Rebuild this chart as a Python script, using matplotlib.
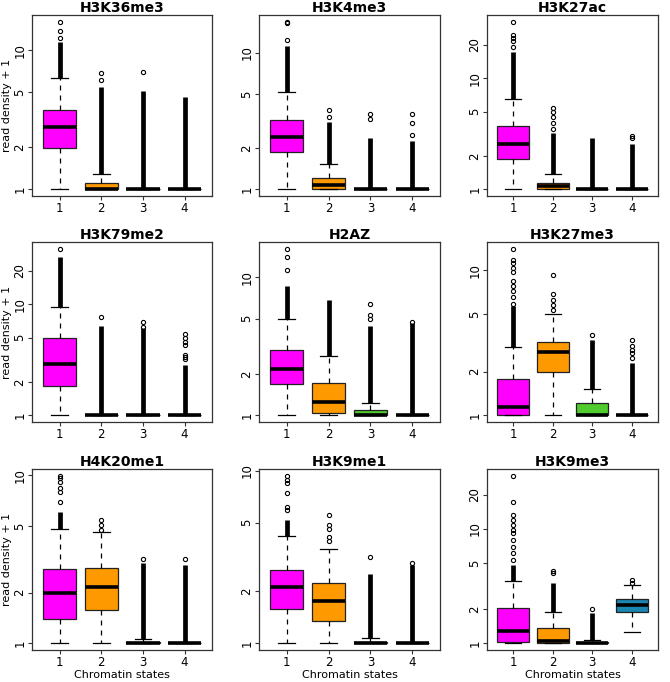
import math
import matplotlib
matplotlib.use('Agg')
import matplotlib.pyplot as plt

# panel titles and box colours (state 1..4)
titles = ['H3K36me3', 'H3K4me3', 'H3K27ac',
          'H3K79me2', 'H2AZ', 'H3K27me3',
          'H4K20me1', 'H3K9me1', 'H3K9me3']
states = [1, 2, 3, 4]
box_colors = ['#FF00FF', '#FF9900', '#4FCB2D', '#1B86B2']

# box statistics (read density + 1)
q1 = [[1.97, 1.0, 1.0, 1.0], [1.89, 1.0, 1.0, 1.0], [1.87, 1.0, 1.0, 1.0],
      [1.85, 1.0, 1.0, 1.0], [1.68, 1.04, 1.0, 1.0], [1.0, 1.98, 1.0, 1.0],
      [1.40, 1.57, 1.0, 1.0], [1.57, 1.35, 1.0, 1.0], [1.03, 1.0, 1.0, 1.86]]
med = [[2.81, 1.0, 1.0, 1.0], [2.41, 1.07, 1.0, 1.0], [2.56, 1.06, 1.0, 1.0],
       [2.91, 1.0, 1.0, 1.0], [2.18, 1.25, 1.0, 1.0], [1.14, 2.72, 1.0, 1.0],
       [2.0, 2.16, 1.0, 1.0], [2.11, 1.75, 1.0, 1.0], [1.27, 1.04, 1.0, 2.17]]
q3 = [[3.72, 1.11, 1.0, 1.0], [3.2, 1.21, 1.0, 1.0], [3.72, 1.15, 1.0, 1.0],
      [4.92, 1.0, 1.0, 1.0], [2.97, 1.71, 1.09, 1.0], [1.78, 3.2, 1.22, 1.0],
      [2.78, 2.79, 1.015, 1.0], [2.65, 2.23, 1.02, 1.0], [2.04, 1.35, 1.03, 2.45]]
wlo = [[1.0, 1.0, 1.0, 1.0], [1.0, 1.0, 1.0, 1.0], [1.0, 1.0, 1.0, 1.0],
       [1.0, 1.0, 1.0, 1.0], [1.0, 1.0, 1.0, 1.0], [1.0, 1.0, 1.0, 1.0],
       [1.0, 1.0, 1.0, 1.0], [1.0, 1.0, 1.0, 1.0], [1.0, 1.0, 1.0, 1.25]]
whi = [[6.37, 1.28, 1.0, 1.0], [5.13, 1.52, 1.0, 1.0], [6.54, 1.38, 1.0, 1.0],
       [9.4, 1.0, 1.0, 1.0], [4.97, 2.7, 1.22, 1.0], [2.94, 5.0, 1.52, 1.0],
       [4.79, 4.57, 1.06, 1.0], [4.21, 3.53, 1.07, 1.0], [3.52, 1.88, 1.06, 3.25]]
# top of the solid run of overlapping outliers (None = no run)
dense_top = [[11.5, 5.48, 5.13, 4.59], [11.3, 3.1, 2.38, 2.27], [17.2, 3.24, 2.88, 2.54],
             [26.4, 6.3, 6.1, 2.85], [8.57, 6.85, 4.45, 4.65], [5.65, None, 3.32, 2.3],
             [6.07, None, 2.99, 2.92], [5.17, None, 2.51, 2.84], [4.83, 3.38, 1.85, None]]
# separate outliers above the solid run
outliers = [
    [[12.3, 13.8, 16.1], [6.13, 6.89], [7.0], []],
    [[12.4, 16.4, 16.9], [3.39, 3.84], [3.25, 3.58], [2.5, 3.07, 3.54]],
    [[19.1, 21.9, 23.3, 24.4, 32.4], [3.47, 3.99, 4.5, 4.99, 5.46], [], [2.92, 3.04]],
    [[31.6], [7.6], [6.2, 6.9], [3.2, 3.35, 3.5, 4.3, 4.6, 5.0, 5.4]],
    [[11.2, 13.9, 16.1], [], [5.0, 5.37, 6.38], [4.72]],
    [[5.9, 6.55, 7.2, 7.75, 8.45, 9.7, 10.3, 11.3, 11.7, 14.1],
     [5.35, 5.8, 6.2, 6.9, 9.24], [3.56], [2.5, 2.7, 2.8, 3.0, 3.3]],
    [[6.96, 7.98, 8.45, 9.1, 9.6, 9.95], [4.75, 5.05, 5.41], [3.17], [3.17]],
    [[5.9, 6.2, 7.45, 8.5, 8.85, 9.35], [3.93, 4.14, 4.57, 4.82, 5.5], [3.17], [2.9]],
    [[5.35, 6.1, 7.0, 8.0, 9.2, 9.8, 10.8, 12.0, 13.2, 17.1, 29.2],
     [4.08, 4.28], [2.0], [3.4, 3.55]],
]
yticks = [[1, 2, 5, 10], [1, 2, 5, 10], [1, 2, 5, 10, 20],
          [1, 2, 5, 10, 20], [1, 2, 5, 10], [1, 2, 5, 10],
          [1, 2, 5, 10], [1, 2, 5, 10], [1, 2, 5, 10, 20]]

W, H = 670, 682
fig = plt.figure(figsize=(W / 100, H / 100), dpi=100)
col_lr = [(32, 212), (259, 440), (487, 658)]
row_tb = [(15, 196), (242, 422), (469, 650)]

for i in range(9):
    r, c = divmod(i, 3)
    l, rt = col_lr[c]
    t, b = row_tb[r]
    ax = fig.add_axes([l / W, 1 - b / H, (rt - l) / W, (b - t) / H])

    stats = []
    for j in range(4):
        stats.append(dict(med=med[i][j], q1=q1[i][j], q3=q3[i][j],
                          whislo=wlo[i][j], whishi=whi[i][j], fliers=[]))
    # solid outlier runs drawn behind the boxes
    for j in range(4):
        if dense_top[i][j] is not None:
            ax.vlines(states[j], whi[i][j], dense_top[i][j], color='black',
                      lw=3.4, zorder=1)
        if outliers[i][j]:
            ax.plot([states[j]] * len(outliers[i][j]), outliers[i][j], 'o',
                    mfc='none', mec='black', ms=3.0, mew=0.8, zorder=1)
    bp = ax.bxp(stats, positions=states, widths=0.8, patch_artist=True,
                showfliers=False,
                boxprops=dict(edgecolor='#222222', linewidth=0.9),
                medianprops=dict(color='black', linewidth=2.6, solid_capstyle='butt'),
                whiskerprops=dict(color='black', linewidth=0.9, linestyle=(0, (4, 4))),
                capprops=dict(color='black', linewidth=0.9), capwidths=0.4)
    for patch, col in zip(bp['boxes'], box_colors):
        patch.set_facecolor(col)
        patch.set_zorder(2)

    ax.set_yscale('log')
    top = max([whi[i][k] for k in range(4)] +
              [d for d in dense_top[i] if d is not None] +
              [v for o in outliers[i] for v in o])
    L = math.log10(top)
    ax.set_ylim(10 ** (-0.04 * L), 10 ** (1.04 * L))
    ax.set_xlim(0.34, 4.66)
    ax.set_yticks(yticks[i])
    ax.set_yticklabels([str(v) for v in yticks[i]], rotation=90, va='center')
    ax.minorticks_off()
    ax.set_xticks(states)
    ax.set_xticklabels([str(s) for s in states])
    ax.tick_params(axis='both', labelsize=8.5, length=3, width=0.8, pad=1,
                   color='#333333')
    for sp in ax.spines.values():
        sp.set_color('#333333')
        sp.set_linewidth(0.9)
    ax.set_title(titles[i], fontsize=10, fontweight='bold', pad=1.5)
    if c == 0:
        ax.set_ylabel('read density + 1', fontsize=8)
        ax.yaxis.set_label_coords(-25 / 180, 0.5)
        ax.yaxis.label.set_va('center')
    if r == 2:
        ax.set_xlabel('Chromatin states', fontsize=8)
        ax.xaxis.set_label_coords(0.5, -25 / 181)
        ax.xaxis.label.set_va('center')

fig.savefig('out.png', dpi=100)
